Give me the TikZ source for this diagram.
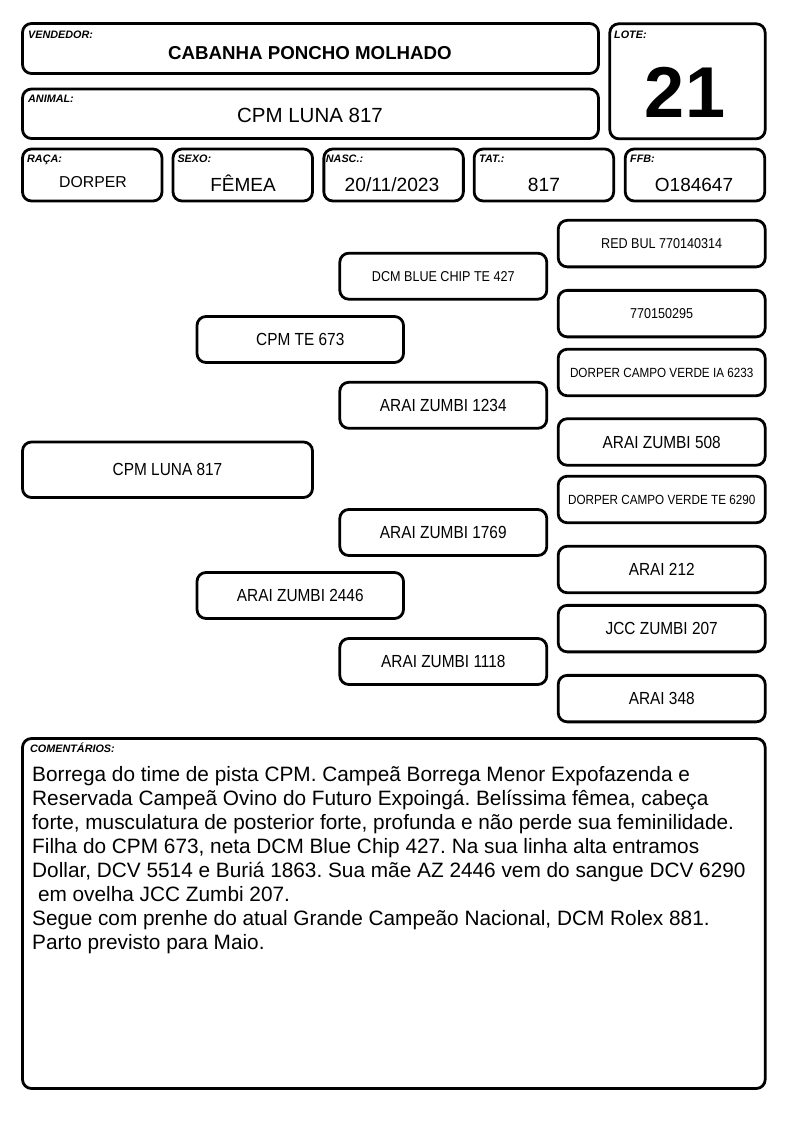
\documentclass[tikz,border=0pt]{standalone}
\usepackage{fontspec}
\setmainfont{Liberation Sans}
\newfontfamily\narrowfont[FakeStretch=0.88]{Liberation Sans}
\frenchspacing
\begin{document}
\begin{tikzpicture}[x=1pt,y=-1pt,
  frame/.style={draw=black, line width=2.8pt, rounded corners=9pt, inner sep=0pt, outer sep=0pt},
  hbox/.style={frame, minimum width=139.5pt, minimum height=52pt},
  col3/.style={frame, minimum width=207pt, minimum height=46.5pt},
  col2/.style={frame, minimum width=207pt, minimum height=46pt},
  col1/.style={frame, minimum width=206.5pt, minimum height=46pt},
  big/.style={font=\narrowfont\fontsize{17.5}{20}\selectfont},
  small/.style={font=\narrowfont\fontsize{14.3}{17}\selectfont},
  tiny/.style={font=\narrowfont\fontsize{13.3}{16}\selectfont},
  lbl/.style={anchor=base west, inner sep=0pt, font=\bfseries\itshape\fontsize{10.8}{12}\selectfont},
  val/.style={anchor=base, inner sep=0pt},
  cline/.style={anchor=base west, inner sep=0pt, font=\fontsize{20.8}{24}\selectfont}
]
\useasboundingbox[fill=white] (0,0) rectangle (794,1123);

% header boxes
\node[frame, minimum width=576pt, minimum height=50pt] (vend) at (310.5,48.5) {};
\node[frame, minimum width=576pt, minimum height=49.5pt] (anim) at (310.5,113.75) {};
\node[frame, minimum width=155.4pt, minimum height=115pt] (lote) at (687.5,81.3) {};
\node[hbox] (raca) at (92.25,175) {};
\node[hbox] (sexo) at (242.75,175) {};
\node[hbox] (nasc) at (393.6,175) {};
\node[hbox] (tat) at (543.9,175) {};
\node[hbox] (ffb) at (695,175) {};

% labels
\node[lbl] (lvend) at (28,39) {VENDEDOR:};
\node[lbl] (lanim) at (28,103) {ANIMAL:};
\node[lbl] (llote) at (614,39) {LOTE:};
\node[lbl] (lraca) at (27,163) {RAÇA:};
\node[lbl] (lsexo) at (177.3,163) {SEXO:};
\node[lbl] (lnasc) at (325.7,163) {NASC.:};
\node[lbl] (ltat) at (479,163) {TAT.:};
\node[lbl] (lffb) at (630,163) {FFB:};

% header values
\node[val, font=\bfseries\fontsize{18.7}{22}\selectfont] (tvend) at (310,60) {CABANHA PONCHO MOLHADO};
\node[val, font=\fontsize{20.5}{24}\selectfont] (tanim) at (310,123) {CPM LUNA 817};
\node[val, font=\bfseries\fontsize{72}{80}\selectfont] (tlote) at (685,118) {21};
\node[val, font=\fontsize{15.8}{18}\selectfont] (traca) at (93,188) {DORPER};
\node[val, font=\fontsize{19}{22}\selectfont] (tsexo) at (243,192) {FÊMEA};
\node[val, font=\fontsize{19.2}{22}\selectfont] (tnasc) at (392,192) {20/11/2023};
\node[val, font=\fontsize{19.2}{22}\selectfont] (ttat) at (544,192) {817};
\node[val, font=\fontsize{19}{22}\selectfont] (tffb) at (694,192) {O184647};

% pedigree
\node[frame, minimum width=290pt, minimum height=55.5pt, big] (p0) at (167.5,469.75) {CPM LUNA 817};
\node[col1, big] (p1a) at (300.25,339.5) {CPM TE 673};
\node[col1, big] (p1b) at (300.25,595.5) {ARAI ZUMBI 2446};
\node[col2, small] (p2a) at (443.3,276.2) {DCM BLUE CHIP TE 427};
\node[col2, big] (p2b) at (443.3,405.3) {ARAI ZUMBI 1234};
\node[col2, big] (p2c) at (443.3,532.5) {ARAI ZUMBI 1769};
\node[col2, big] (p2d) at (443.3,661.5) {ARAI ZUMBI 1118};
\node[col3, small] (p3a) at (661.7,243.6) {RED BUL 770140314};
\node[col3, small] (p3b) at (661.7,313.6) {770150295};
\node[col3, tiny] (p3c) at (661.7,372.5) {DORPER CAMPO VERDE IA 6233};
\node[col3, big] (p3d) at (661.7,442) {ARAI ZUMBI 508};
\node[col3, tiny] (p3e) at (661.7,499.5) {DORPER CAMPO VERDE TE 6290};
\node[col3, big] (p3f) at (661.7,569.5) {ARAI 212};
\node[col3, big] (p3g) at (661.7,628.6) {JCC ZUMBI 207};
\node[col3, big] (p3h) at (661.7,698.6) {ARAI 348};

% comments
\node[frame, minimum width=742.7pt, minimum height=350pt] (com) at (393.85,913.5) {};
\node[lbl] (lcom) at (30,752.7) {COMENTÁRIOS:};
\node[cline] (c1) at (32,781) {Borrega do time de pista CPM. Campeã Borrega Menor Expofazenda e};
\node[cline] (c2) at (32,805) {Reservada Campeã Ovino do Futuro Expoingá. Belíssima fêmea, cabeça};
\node[cline] (c3) at (32,829) {forte, musculatura de posterior forte, profunda e não perde sua feminilidade.};
\node[cline] (c4) at (32,853) {Filha do CPM 673, neta DCM Blue Chip 427. Na sua linha alta entramos};
\node[cline] (c5) at (32,877) {Dollar, DCV 5514 e Buriá 1863. Sua mãe AZ 2446 vem do sangue DCV 6290};
\node[cline] (c6) at (32,901) {\hspace*{5.8pt}em ovelha JCC Zumbi 207.};
\node[cline] (c7) at (32,925) {Segue com prenhe do atual Grande Campeão Nacional, DCM Rolex 881.};
\node[cline] (c8) at (32,949) {Parto previsto para Maio.};
\end{tikzpicture}
\end{document}
